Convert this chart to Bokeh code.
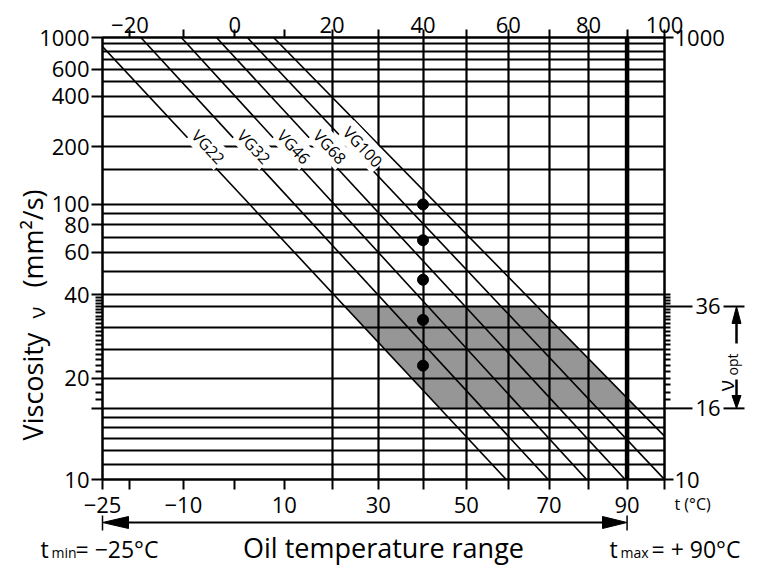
import math
import numpy as np
from bokeh.plotting import figure
from bokeh.models import (Range1d, LinearAxis, FixedTicker, Grid, Label, Span, ColumnDataSource)
from bokeh.core.properties import value
from bokeh.embed import file_html
from bokeh.resources import INLINE

# ---------------- data ----------------
vg_grades = ["VG22", "VG32", "VG46", "VG68", "VG100"]
vg_visc_40 = [22, 32, 46, 68, 100]          # mm2/s at 40 degC (dots)
ref_temp = [40, 40, 40, 40, 40]

line_names = ["VG22", "VG32", "VG46", "VG68", "VG100", ""]
line_temp_start = [-25.0, -18.0, -10.4, -3.6, 2.5, 7.8]
line_visc_start = [860, 1000, 1000, 1000, 1000, 1000]
line_temp_end = [59.5, 69.8, 79.5, 89.5, 100.0, 100.0]
line_visc_end = [10, 10, 10, 10, 10, 13.2]

visc_opt = [16, 36]                 # optimum viscosity band
band_left_line, band_right_line = 0, 5
t_min, t_max = -25, 90
temp_range = [-25, 100]
visc_range = [10, 1000]

visc_grid = [1000, 900, 800, 700, 600, 500, 400, 300, 200, 150, 100, 90, 80, 70,
             60, 50, 40, 36, 30, 25, 20, 16, 15, 14, 13, 12, 11, 10]
visc_left_labels = [1000, 600, 400, 200, 100, 80, 60, 40, 20, 10]
visc_left_ticks = visc_left_labels + [16]
visc_left_minor = [v for v in range(17, 40) if v != 20]
visc_right_labels = [1000, 10]
visc_right_minor = [v for v in range(17, 41) if v != 36]
temp_grid = [20, 30, 40, 50, 60, 70, 80]
temp_bottom_ticks = [-25, -20, -10, 0, 10, 20, 30, 40, 50, 60, 70, 80, 90, 100]
temp_bottom_labels = [-25, -10, 10, 30, 50, 70, 90]
temp_top_ticks = [-20, -10, 0, 10, 20, 30, 40, 50, 60, 70, 80, 90, 100]
temp_top_labels = [-20, 0, 20, 40, 60, 80, 100]


# Ubbelohde-Walther chart scales: x = log(T abs), y = log(log(v + 0.7))
def tx(t):
    return float(np.log10(t + 273.15))


def ty(v):
    return float(np.log10(np.log10(v + 0.7)))


def lab(n):
    return ("\u2212" + str(-n)) if n < 0 else str(n)


FONT = "Open Sans"
W, H = 781, 572
FL, FR, FT, FB = 102, 664, 37, 479
X0, X1 = tx(temp_range[0]), tx(temp_range[1])
Y0, Y1 = ty(visc_range[0]), ty(visc_range[1])
kx = (FR - FL) / (X1 - X0)
ky = (FB - FT) / (Y1 - Y0)


def px_x(px):
    return X0 + (px - FL) / kx


def px_y(py):
    return Y0 + (FB - py) / ky


p = figure(width=W, height=H, x_range=Range1d(X0, X1), y_range=Range1d(Y0, Y1),
           x_axis_type=None, y_axis_type=None, toolbar_location=None,
           output_backend="svg", min_border_left=FL, min_border_right=W - FR,
           min_border_top=FT, min_border_bottom=H - FB,
           outline_line_color="black", outline_line_width=2,
           background_fill_color="white", border_fill_color="white")


def make_axis(ticks_vals, labels_vals, fn, minor_vals=None, tick_out=10, standoff=2):
    ticks = [fn(v) for v in ticks_vals]
    minors = [fn(v) for v in (minor_vals or [])]
    overrides = {fn(v): (lab(v) if v in labels_vals else "") for v in ticks_vals}
    ax = LinearAxis(ticker=FixedTicker(ticks=ticks, minor_ticks=minors),
                    major_label_overrides=overrides,
                    major_tick_out=tick_out, major_tick_in=0,
                    minor_tick_out=7 if minors else 0, minor_tick_in=0,
                    major_tick_line_width=2, minor_tick_line_width=2,
                    axis_line_width=2, axis_line_color="black",
                    major_tick_line_color="black", minor_tick_line_color="black",
                    major_label_text_font=FONT, major_label_text_font_size="22px",
                    major_label_text_color="black", major_label_standoff=standoff)
    return ax


p.add_layout(make_axis(temp_bottom_ticks, temp_bottom_labels, tx, tick_out=10, standoff=7), "below")
p.add_layout(make_axis(temp_top_ticks, temp_top_labels, tx, tick_out=8, standoff=-3), "above")
p.add_layout(make_axis(visc_left_ticks, visc_left_labels, ty, visc_left_minor, tick_out=11, standoff=2), "left")
ax_r = make_axis(visc_right_labels, visc_right_labels, ty, visc_right_minor, tick_out=9, standoff=1)
ax_r.minor_tick_out = 6
p.add_layout(ax_r, "right")

# grid lines
p.add_layout(Grid(dimension=0, ticker=FixedTicker(ticks=[tx(t) for t in temp_grid]),
                  grid_line_color="black", grid_line_width=2.2))
p.add_layout(Grid(dimension=1, ticker=FixedTicker(ticks=[ty(v) for v in visc_grid]),
                  grid_line_color="black", grid_line_width=1.8))

# lines of the viscosity grades
lx0 = [tx(t) for t in line_temp_start]
ly0 = [ty(v) for v in line_visc_start]
lx1 = [tx(t) for t in line_temp_end]
ly1 = [ty(v) for v in line_visc_end]
src = ColumnDataSource(dict(x0=lx0, y0=ly0, x1=lx1, y1=ly1))


def x_on_line(i, yq):
    return lx0[i] + (yq - ly0[i]) * (lx1[i] - lx0[i]) / (ly1[i] - ly0[i])


# optimum band
yb_lo, yb_hi = ty(visc_opt[0]), ty(visc_opt[1])
band_x = [x_on_line(band_left_line, yb_hi), x_on_line(band_right_line, yb_hi),
          x_on_line(band_right_line, yb_lo), x_on_line(band_left_line, yb_lo)]
band_y = [yb_hi, yb_hi, yb_lo, yb_lo]
p.patch(band_x, band_y, fill_color="#969696", line_color=None, level="image")

p.segment("x0", "y0", "x1", "y1", source=src, line_color="black", line_width=1.6)

# limit temperature line (90 degC)
p.add_layout(Span(location=tx(t_max), dimension="height", line_color="black", line_width=4.5))

# dots at 40 degC
p.scatter([tx(t) for t in ref_temp], [ty(v) for v in vg_visc_40], size=11, color="black")

# grade labels along the lines
yq = ty(185)
for i, name in enumerate(line_names):
    if not name:
        continue
    a = math.atan2((ly1[i] - ly0[i]) * ky, (lx1[i] - lx0[i]) * kx)
    d = 9
    p.add_layout(Label(x=x_on_line(i, yq), y=yq, text=name, angle=a,
                       x_offset=-math.sin(a) * d, y_offset=math.cos(a) * d,
                       text_align="center", text_baseline="middle",
                       text_font=FONT, text_font_size="16px", text_color="black",
                       background_fill_color="white", padding=1))

# ---------- decorations outside the plot frame (overlay level, not clipped) ----------
OV = "overlay"


def seg(xa, ya, xb, yb, w):
    p.segment([xa], [ya], [xb], [yb], line_color="black", line_width=w, level=OV)


def tri(xs, ys):
    p.patch(xs, ys, fill_color="black", line_color="black", line_width=1, level=OV)


def txt(x, y, s, size, align="left", angle=0.0):
    p.text([x], [y], text=[s], text_font=value(FONT), text_font_size=value(size),
           text_align=align, text_baseline="middle", angle=angle,
           text_color="black", level=OV)


# right side: optimum viscosity marks
for v in visc_opt:
    yv = ty(v)
    seg(X1, yv, px_x(692), yv, 2)
    seg(px_x(723), yv, px_x(744), yv, 2)
    txt(px_x(695), px_y(0) * 0 + yv, str(v), "22px")

ax_x = px_x(736)
seg(ax_x, px_y(343), ax_x, px_y(321), 2.5)
tri([ax_x, px_x(731.5), px_x(740.5)], [ty(visc_opt[1]), px_y(323), px_y(323)])
seg(ax_x, px_y(379), ax_x, px_y(397), 2.5)
tri([ax_x, px_x(731.5), px_x(740.5)], [ty(visc_opt[0]), px_y(395), px_y(395)])
txt(px_x(725), px_y(385), "\u03bd", "21px", align="center", angle=math.pi / 2)
txt(px_x(732), px_y(364), "opt", "14px", align="center", angle=math.pi / 2)

# axis unit text
txt(px_x(674), px_y(503), "t  (\u00b0C)", "16px")

# y title
txt(px_x(32), px_y(386), "Viscosity", "27px", align="center", angle=math.pi / 2)
txt(px_x(35), px_y(312), "\u03bd", "22px", align="center", angle=math.pi / 2)
txt(px_x(32), px_y(238), "(mm\u00b2/s)", "27px", align="center", angle=math.pi / 2)

# temperature range arrow
ya = px_y(522)
seg(px_x(126), ya, px_x(604), ya, 2)
tri([tx(t_min), px_x(128), px_x(128)], [ya, px_y(516), px_y(528)])
tri([tx(t_max), px_x(602), px_x(602)], [ya, px_y(516), px_y(528)])
for t in (t_min, t_max):
    seg(tx(t), px_y(515), tx(t), px_y(530), 1.5)

txt(px_x(383), px_y(547), "Oil temperature range", "27px", align="center")
txt(px_x(40), px_y(548), "t", "23px")
txt(px_x(51), px_y(552), "min", "14px")
txt(px_x(75), px_y(548), "= " + lab(t_min) + "\u00b0C", "23px")
txt(px_x(609), px_y(548), "t", "23px")
txt(px_x(620), px_y(552), "max", "14px")
txt(px_x(651), px_y(548), "= + " + lab(t_max) + "\u00b0C", "23px")

open("out.html", "w").write(file_html(p, INLINE))
